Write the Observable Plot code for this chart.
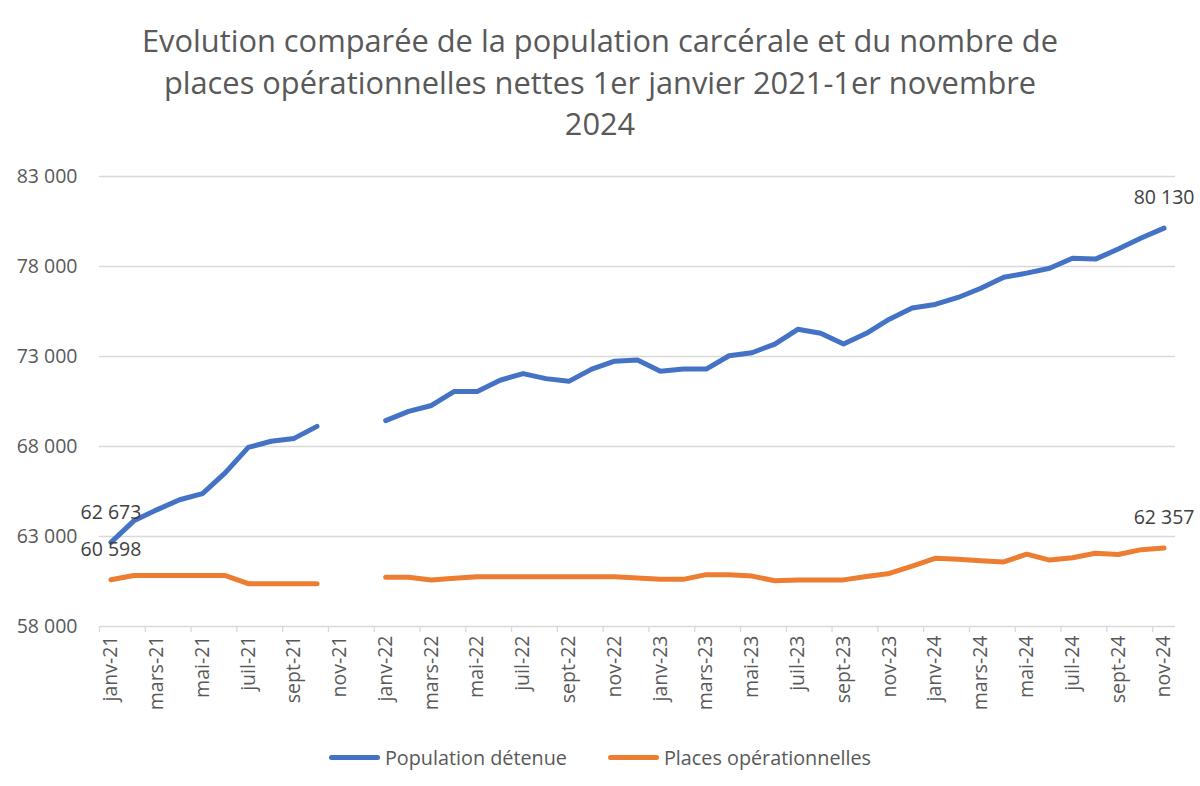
<!DOCTYPE html>
<html>
<head>
<meta charset="utf-8">
<script src="https://cdn.jsdelivr.net/npm/d3@7"></script>
<script src="https://cdn.jsdelivr.net/npm/@observablehq/plot@0.6"></script>
<style>
  html, body { margin: 0; padding: 0; background: #fff; }
  body { width: 1200px; height: 786px; position: relative; font-family: "Open Sans", sans-serif; overflow: hidden; }
  #title { position: absolute; top: 20px; left: 0; width: 1200px; text-align: center; font-size: 30.8px; line-height: 41.5px; color: #595959; }
  #chart { position: absolute; top: 150px; left: 0; }
  #legend { position: absolute; top: 744px; left: 0; width: 1200px; display: flex; justify-content: center; align-items: center; font-size: 19.8px; color: #595959; }
  .item { display: flex; align-items: center; }
  .sw { width: 51px; height: 5px; border-radius: 3px; margin-right: 5px; }
</style>
</head>
<body>
<div id="title">Evolution comparée de la population carcérale et du nombre de<br>places opérationnelles nettes 1er janvier 2021-1er novembre<br>2024</div>
<div id="chart"></div>
<div id="legend">
  <div class="item"><div class="sw" style="background:#4472C4"></div><span>Population détenue</span></div>
  <div class="item" style="margin-left:41px"><div class="sw" style="background:#ED7D31"></div><span>Places opérationnelles</span></div>
</div>
<script>
const monthNames = ["janv", "févr", "mars", "avr", "mai", "juin", "juil", "août", "sept", "oct", "nov", "déc"];
const years = ["21", "22", "23", "24"];
const months = years.flatMap(y => monthNames.map(m => m + "-" + y)).slice(0, 47);
const tickMonths = months.filter((m, i) => i % 2 === 0);

const population = [62673, 63870, 64480, 65040, 65380, 66550, 67950, 68290, 68450, 69120, null, null,
  69440, 69950, 70280, 71060, 71060, 71680, 72050, 71770, 71620, 72300, 72740, 72800,
  72180, 72300, 72300, 73040, 73210, 73690, 74510, 74290, 73690, 74290, 75070, 75690,
  75890, 76280, 76790, 77400, 77630, 77900, 78460, 78410, 78970, 79580, 80130];
const places = [60598, 60830, 60830, 60830, 60830, 60830, 60380, 60380, 60380, 60380, null, null,
  60740, 60740, 60580, 60680, 60760, 60760, 60760, 60760, 60760, 60760, 60760, 60700,
  60620, 60620, 60880, 60880, 60800, 60540, 60590, 60590, 60590, 60780, 60950, 61360,
  61790, 61730, 61650, 61590, 62020, 61690, 61820, 62070, 62000, 62270, 62357];
const seriesNames = ["Population détenue", "Places opérationnelles"];
const seriesColors = ["#4472C4", "#ED7D31"];
const yTicks = [58000, 63000, 68000, 73000, 78000, 83000];
const labelled = [
  {series: 0, i: 0, text: "62 673"},
  {series: 1, i: 0, text: "60 598"},
  {series: 0, i: 46, text: "80 130"},
  {series: 1, i: 46, text: "62 357"}
];

const rows = [];
[population, places].forEach((vals, s) => vals.forEach((v, i) => rows.push({month: months[i], value: v, series: seriesNames[s]})));
const labelRows = labelled.map(d => ({month: months[d.i], value: [population, places][d.series][d.i], text: d.text}));

const width = 1200, height = 580, mL = 99, mR = 25, mT = 26, mB = 104;
const bw = (width - mL - mR) / months.length;
const fmt = d3.formatLocale({decimal: ",", thousands: " ", grouping: [3]}).format(",");

const chart = Plot.plot({
  width, height,
  marginLeft: mL, marginRight: mR, marginTop: mT, marginBottom: mB,
  style: {fontFamily: "Open Sans, sans-serif", fontSize: "19.5px", color: "#595959", background: "transparent"},
  x: {type: "band", domain: months, padding: 0},
  y: {domain: [58000, 83000]},
  color: {domain: seriesNames, range: seriesColors},
  marks: [
    Plot.ruleY(yTicks, {stroke: "#d9d9d9", strokeWidth: 1.3}),
    Plot.ruleX(tickMonths, {x: d => d, y1: 58000, y2: 58000, insetBottom: -6, dx: -bw / 2, stroke: "#d9d9d9", strokeWidth: 1.3}),
    Plot.axisY({ticks: yTicks, tickSize: 0, tickPadding: 22, tickFormat: fmt, label: null, fontSize: 19.5}),
    Plot.axisX({ticks: tickMonths, tickSize: 0, tickPadding: 9, tickRotate: -90, label: null, fontSize: 19.5}),
    Plot.line(rows, {x: "month", y: "value", z: "series", stroke: "series", strokeWidth: 5, strokeLinecap: "round", strokeLinejoin: "round"}),
    Plot.text(labelRows, {x: "month", y: "value", text: "text", dy: -30, fontSize: 19.5, fill: "#404040"})
  ]
});
document.getElementById("chart").appendChild(chart);
</script>
</body>
</html>
